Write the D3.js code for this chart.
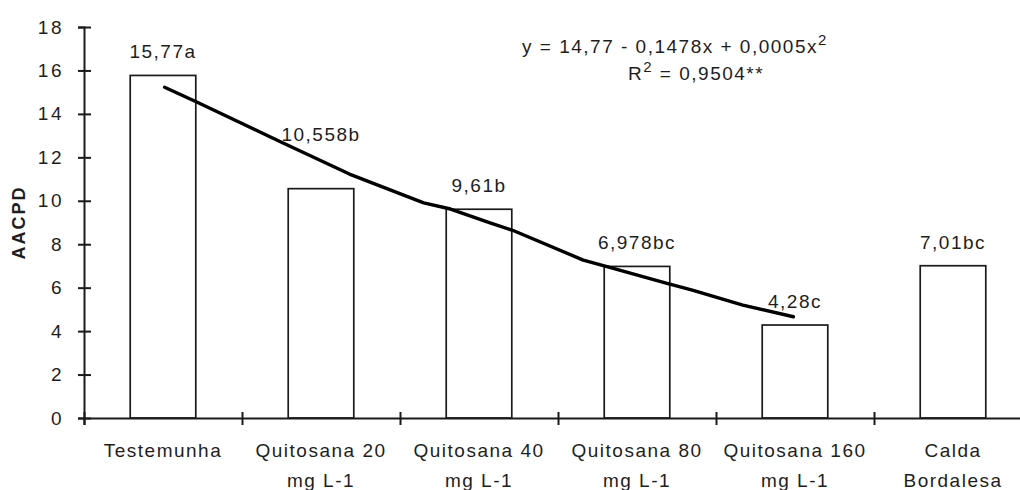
<!DOCTYPE html>
<html>
<head>
<meta charset="utf-8">
<script src="https://cdn.jsdelivr.net/npm/d3@7"></script>
<style>
  html, body { margin: 0; padding: 0; background: #fff; }
  svg { display: block; }
  text { font-family: Arial, "Liberation Sans", sans-serif; fill: #1e1e1e; }
</style>
</head>
<body>
<svg id="chart" width="1020" height="490"></svg>
<script>
// ---- data ----
const categories = ["Testemunha", "Quitosana 20 mg L-1", "Quitosana 40 mg L-1", "Quitosana 80 mg L-1", "Quitosana 160 mg L-1", "Calda Bordalesa"];
const categoryLines = [["Testemunha"], ["Quitosana 20", "mg L-1"], ["Quitosana 40", "mg L-1"], ["Quitosana 80", "mg L-1"], ["Quitosana 160", "mg L-1"], ["Calda", "Bordalesa"]];
const values = [15.77, 10.558, 9.61, 6.978, 4.28, 7.01];
const valueLabels = ["15,77a", "10,558b", "9,61b", "6,978bc", "4,28c", "7,01bc"];
const yTicks = [0, 2, 4, 6, 8, 10, 12, 14, 16, 18];
// hand-drawn regression curve (x = category index, y = value)
const trendX = [0.01, 0.21, 0.61, 0.76, 1.18, 1.65, 1.82, 2.07, 2.22, 2.66, 2.81, 3.19, 3.35, 3.67, 3.99];
const trendY = [15.23, 14.56, 13.18, 12.66, 11.23, 9.90, 9.62, 8.98, 8.62, 7.27, 6.97, 6.20, 5.89, 5.20, 4.66];
const equationText = "y = 14,77 - 0,1478x + 0,0005x";
const r2Text = " = 0,9504**";
const yTitle = "AACPD";

// ---- layout ----
const svg = d3.select("#chart");
const mLeft = 84, mTop = 27, mBottom = 418;
const step = 158;
const mRight = mLeft + step * categories.length;
const FS = 19, LS = "1.5px";

const x = d3.scaleBand().domain(categories).range([mLeft, mRight]).paddingInner(0.585).paddingOuter(0.2925);
const y = d3.scaleLinear().domain([0, 18]).range([mBottom, mTop]);
const xc = d3.scaleLinear().domain([0, categories.length - 1])
  .range([x(categories[0]) + x.bandwidth() / 2, x(categories[categories.length - 1]) + x.bandwidth() / 2]);

// bars
svg.append("g").selectAll("rect").data(values).join("rect")
  .attr("x", (d, i) => x(categories[i]))
  .attr("y", d => y(d))
  .attr("width", x.bandwidth())
  .attr("height", d => mBottom - y(d))
  .attr("fill", "#fff")
  .attr("stroke", "#1a1a1a")
  .attr("stroke-width", 1.7);

// value labels
const labelRaise = [0, 31, 0, 0, 0, 0];
svg.append("g").selectAll("text").data(values).join("text")
  .attr("x", (d, i) => x(categories[i]) + x.bandwidth() / 2)
  .attr("y", (d, i) => y(d) - 17 - labelRaise[i])
  .attr("text-anchor", "middle")
  .style("font-size", FS + "px")
  .style("letter-spacing", LS)
  .text((d, i) => valueLabels[i]);

// y axis
const yAxis = svg.append("g").attr("transform", `translate(${mLeft},0)`)
  .call(d3.axisLeft(y).tickValues(yTicks).tickSizeOuter(0).tickSize(6).tickFormat(d3.format("d")));
yAxis.select(".domain").attr("stroke", "#1a1a1a").attr("stroke-width", 2);
yAxis.selectAll(".tick line").attr("x1", 7).attr("x2", -6).attr("stroke", "#1a1a1a").attr("stroke-width", 2);
yAxis.selectAll(".tick text").attr("x", -20).style("font-size", FS + "px").style("letter-spacing", "2.5px")
  .style("font-family", "Arial, 'Liberation Sans', sans-serif").attr("fill", "#1e1e1e");

// x axis (boundaries)
const xb = d3.scaleLinear().domain([0, categories.length]).range([mLeft, mRight]);
const xAxis = svg.append("g").attr("transform", `translate(0,${mBottom})`)
  .call(d3.axisBottom(xb).tickValues(d3.range(0, categories.length + 1)).tickSizeOuter(0).tickSize(7).tickFormat(""));
xAxis.select(".domain").attr("stroke", "#1a1a1a").attr("stroke-width", 2);
xAxis.selectAll(".tick line").attr("y1", -6).attr("y2", 7).attr("stroke", "#1a1a1a").attr("stroke-width", 2);

// category labels
const xl = svg.append("g").attr("transform", `translate(0,${mBottom})`)
  .call(d3.axisBottom(x).tickSize(0).tickFormat(""));
xl.select(".domain").remove();
xl.selectAll(".tick").each(function(d, i) {
  const t = d3.select(this).append("text")
    .attr("text-anchor", "middle")
    .style("font-size", FS + "px")
    .style("letter-spacing", LS)
    .attr("fill", "#1e1e1e");
  categoryLines[i].forEach((ln, j) => {
    t.append("tspan").attr("x", 0).attr("y", 39 + j * 30).text(ln);
  });
});

// trend curve
const line = d3.line().x((d, i) => xc(trendX[i])).y(d => y(d)).curve(d3.curveLinear);
svg.append("path").datum(trendY)
  .attr("d", line)
  .attr("fill", "none")
  .attr("stroke", "#000")
  .attr("stroke-width", 3.4)
  .attr("stroke-linejoin", "round")
  .attr("stroke-linecap", "round");

// equation
const eq = svg.append("text").attr("x", 522).attr("y", 53)
  .style("font-size", FS + "px").style("letter-spacing", LS);
eq.append("tspan").text(equationText);
eq.append("tspan").attr("dy", -8).style("font-size", "15px").text("2");
const r2 = svg.append("text").attr("x", 628).attr("y", 80)
  .style("font-size", FS + "px").style("letter-spacing", LS);
r2.append("tspan").text("R");
r2.append("tspan").attr("dy", -8).style("font-size", "15px").text("2");
r2.append("tspan").attr("dy", 8).text(r2Text);

// y title
svg.append("text")
  .attr("transform", `translate(25,${(mTop + mBottom) / 2}) rotate(-90)`)
  .attr("text-anchor", "middle")
  .style("font-size", "18px")
  .style("font-weight", "bold")
  .style("letter-spacing", "2px")
  .text(yTitle);
</script>
</body>
</html>
